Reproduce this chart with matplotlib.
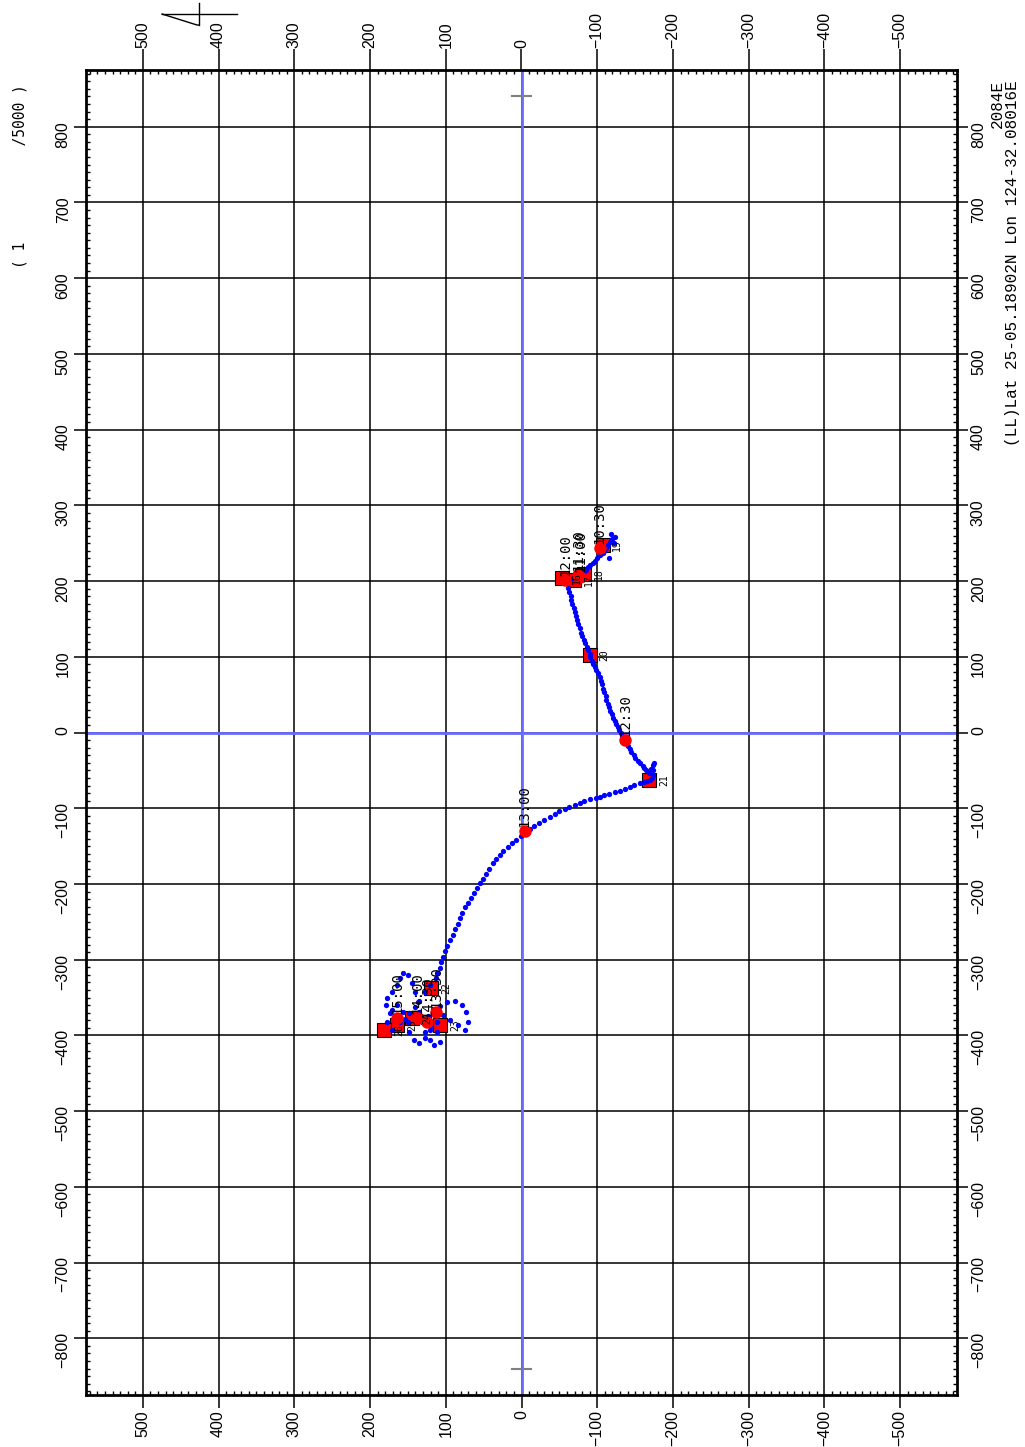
import matplotlib
matplotlib.use('Agg')
import matplotlib.pyplot as plt
from matplotlib.lines import Line2D
from matplotlib.ticker import MultipleLocator

# track points (metres from origin)
track_x = [-123, -120, -117, -114, -112, -109, -107, -103, -100, -97, -95, -91, -88, -85, -82, -78,
           -75, -72, -69, -65, -62, -58, -55, -118, -122, -116,
           -61, -63, -65, -66, -67, -69, -70, -72, -73, -75, -77, -79, -80, -82, -84, -86, -88, -90,
           -91, -93, -95, -97, -99, -101, -103, -105, -106, -108, -109, -111, -112, -114, -115, -117,
           -119, -121, -123, -125, -127, -129, -131, -133, -135, -138, -140, -143, -145, -148, -150,
           -154, -157, -160, -162, -165, -168,
           -171, -173, -175, -174, -174, -172, -170,
           -166, -162, -156, -149, -143, -136, -130, -123, -116, -109, -104, -99, -91, -83, -77, -70,
           -63, -57, -50, -44, -37, -30, -23, -17, -11, -5, 1, 7, 12, 18, 24, 29, 34, 38, 43, 47, 51,
           55, 59, 63, 67, 71, 75, 78, 81, 84, 88, 91, 95, 98, 101, 103, 106, 108, 111, 113,
           121, 128, 135, 141, 148, 154, 161, 168, 174, 179, 177, 171, 165, 161, 156, 150, 145, 141,
           137, 135, 131, 127, 121, 115, 108, 111, 119, 124, 117, 108, 98, 88, 79, 73, 71, 75, 84, 95,
           104, 112, 121, 128, 135, 142, 148, 150, 157, 164, 171, 177, 171]
track_y = [258, 255, 252, 248, 244, 240, 237, 234, 231, 227, 224, 221, 218, 215, 213, 211,
           209, 207, 205, 203, 202, 201, 200, 262, 250, 231,
           191, 186, 180, 175, 170, 165, 159, 154, 149, 143, 138, 132, 127, 122, 118, 113, 109, 104,
           100, 95, 90, 87, 83, 78, 73, 68, 64, 58, 53, 48, 43, 38, 34, 29,
           24, 19, 15, 11, 7, 3, 0, -4, -9, -14, -18, -22, -26, -30, -34,
           -37, -40, -44, -47, -50, -53,
           -48, -43, -40, -50, -56, -60, -63,
           -64, -65, -67, -69, -72, -75, -77, -79, -81, -83, -85, -87, -88, -90, -93, -96,
           -98, -101, -104, -108, -112, -116, -120, -124, -127, -131, -137, -142, -146, -151, -157,
           -162, -167, -173, -180, -187, -193,
           -199, -206, -212, -218, -225, -231, -238, -245, -253, -260, -267, -274, -282, -289, -296,
           -303, -311, -318, -324,
           -334, -343, -354, -363, -371, -378, -383, -380, -371, -360, -351, -343, -334, -324, -318,
           -320, -331, -343, -356, -369, -383, -396, -406, -413, -409, -396, -387, -374, -365, -361,
           -356, -354, -360, -369, -383, -393, -386, -380, -373, -383, -393, -404, -410, -406, -396,
           -383, -369, -360, -367, -383, -393]

# numbered fixes (red squares)
squares_x = [-54, -69, -83, -107, -90, -169, 119, 107, 144, 164, 181]
squares_y = [204, 201, 209, 248, 102, -63, -338, -386, -377, -386, -393]
square_labels = ['16', '17', '18', '19', '20', '21', '22', '23', '24', '25', '26']

# half-hour marks (red circles)
times_x = [-103, -77, -75, -58, -137, -4, 113, 137, 125, 164]
times_y = [244, 206, 208, 201, -10, -130, -369, -377, -383, -377]
time_labels = ['10:30', '11:00', '11:30', '12:00', '12:30', '13:00', '13:30', '14:00', '14:30', '15:00']

W, H = 1025, 1447
fig = plt.figure(figsize=(W / 100, H / 100), dpi=100)
ax = fig.add_axes([86 / W, 1 - 1395 / H, (957 - 86) / W, (1395 - 70) / H])
ax.set_xlim(575, -575)
ax.set_ylim(-875, 875)

ax.xaxis.set_minor_locator(MultipleLocator(10))
ax.yaxis.set_minor_locator(MultipleLocator(10))
ax.set_xticks(range(-500, 501, 100))
ax.set_yticks(range(-800, 801, 100))
ax.grid(True, which='major', color='black', lw=1.1, zorder=1)
ax.set_axisbelow(True)

ax.tick_params(which='major', direction='out', length=9, width=1.1, top=False, right=False,
               labelsize=11.5)
ax.tick_params(which='minor', direction='in', length=3, width=1, top=True, right=True)
ax.tick_params(axis='x', labelrotation=90, pad=2)
ax.tick_params(axis='y', labelrotation=90, pad=2)
for lab in ax.get_xticklabels() + ax.get_yticklabels():
    lab.set_family('Liberation Sans')

top = ax.secondary_xaxis('top')
top.set_xticks(range(-500, 501, 100))
top.tick_params(direction='out', length=15, width=1.1, labelrotation=90, labelsize=11.5, pad=1)
right = ax.secondary_yaxis('right')
right.set_yticks(range(-800, 801, 100))
right.tick_params(direction='out', length=8, width=1.1, labelrotation=90, labelsize=11.5, pad=2)
for lab in top.get_xticklabels() + right.get_yticklabels():
    lab.set_family('Liberation Sans')
for a in (top, right):
    for s in a.spines.values():
        s.set_visible(False)

for s in ax.spines.values():
    s.set_linewidth(2)

# blue axes through the origin and end marks
ax.axvline(0, color='#6b6bff', lw=2, zorder=2)
ax.axhline(0, color='#6b6bff', lw=2, zorder=2)
ax.plot([-13, 13], [840, 840], color='#808080', lw=1.5, zorder=2)
ax.plot([-13, 13], [-840, -840], color='#808080', lw=1.5, zorder=2)

ax.plot(squares_x, squares_y, 's', ms=10, mfc='red', mec='black', mew=0.8, ls='none', zorder=3)
ax.plot(track_x, track_y, 'o', ms=3.8, color='blue', mec='none', ls='none', zorder=4)
ax.plot(times_x, times_y, 'o', ms=9, color='red', mec='none', ls='none', zorder=5)

for x, y, s in zip(squares_x, squares_y, square_labels):
    ax.annotate(s, (x, y), xytext=(7, 0), textcoords='offset points', rotation=90,
                ha='left', va='center', fontsize=7, family='DejaVu Sans Mono', zorder=6)
for x, y, s in zip(times_x, times_y, time_labels):
    ax.annotate(s, (x, y), xytext=(0, 3), textcoords='offset points', rotation=90,
                ha='center', va='bottom', fontsize=10, family='DejaVu Sans Mono', zorder=6)

# scale and position notes
fig.text(20 / W, 1 - 84 / H, '( 1           /5000 )', rotation=90, ha='center', va='top',
         family='DejaVu Sans Mono', size=10.5)
fig.text(997 / W, 1 - 80 / H, '2084E', rotation=90, ha='center', va='top',
         family='Liberation Mono', size=11.5)
fig.text(1013 / W, 1 - 80 / H, '(LL)Lat 25-05.18902N Lon 124-32.08016E', rotation=90,
         ha='center', va='top', family='Liberation Mono', size=11.5)

# north mark
def px_line(xs, ys):
    fig.add_artist(Line2D([x / W for x in xs], [1 - y / H for y in ys], color='black', lw=1,
                          transform=fig.transFigure))

px_line([162, 237], [14, 14])
px_line([199, 199], [3, 25])
px_line([162, 197, 199], [14, 25, 25])

fig.savefig('out.png', dpi=100)
